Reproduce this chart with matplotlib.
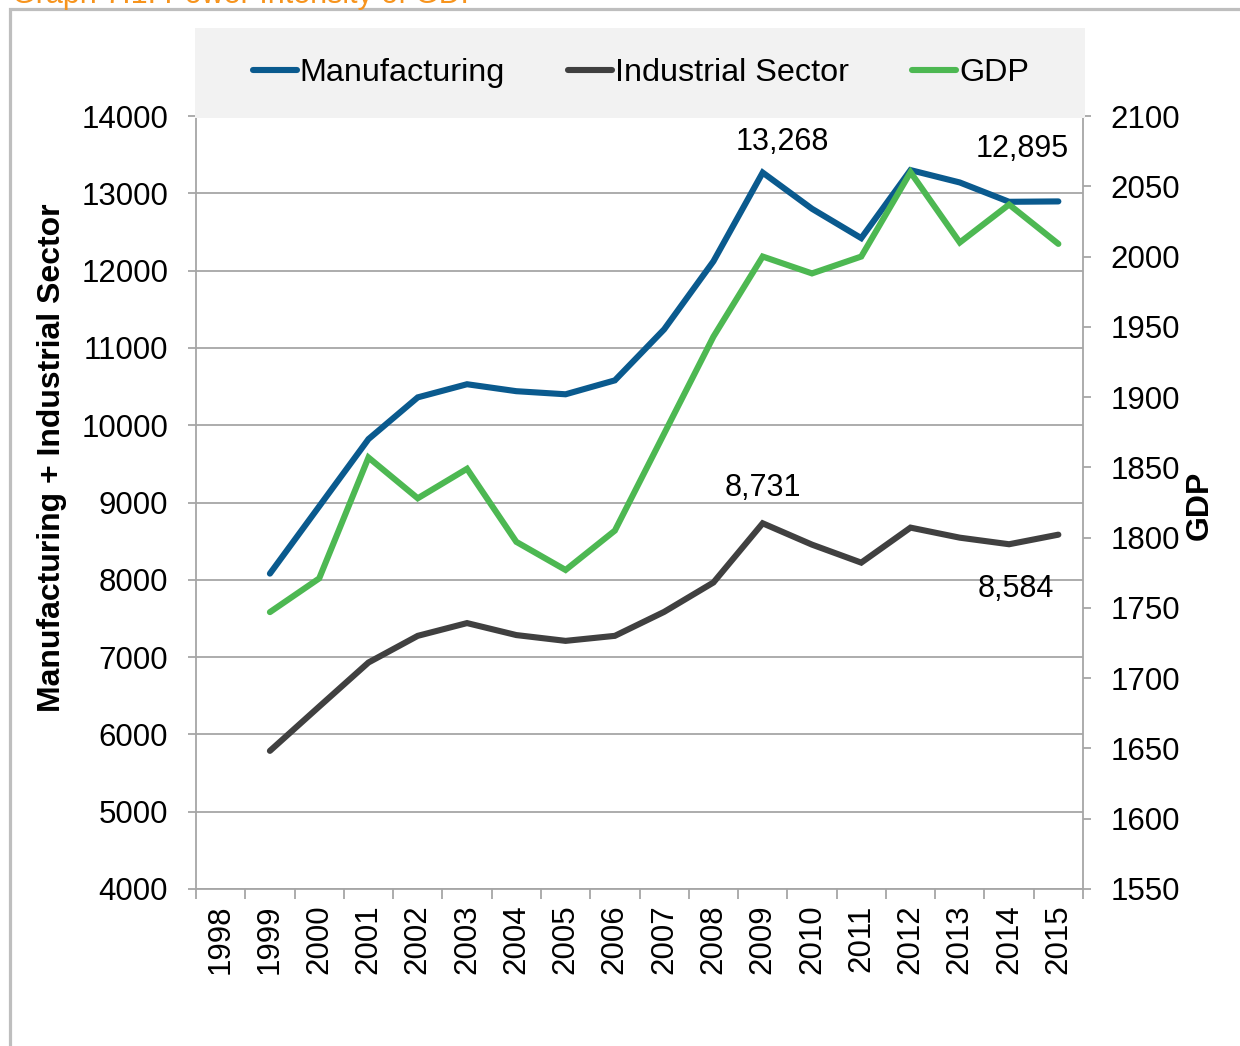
import matplotlib
matplotlib.use("Agg")
import matplotlib.pyplot as plt
from matplotlib.patches import Rectangle
from matplotlib.lines import Line2D
from matplotlib.ticker import FixedLocator, NullFormatter, FixedFormatter

years = ["1998", "1999", "2000", "2001", "2002", "2003", "2004", "2005", "2006",
         "2007", "2008", "2009", "2010", "2011", "2012", "2013", "2014", "2015"]
data_years = years[1:]
manufacturing = [8080, 8950, 9820, 10360, 10530, 10440, 10400, 10580, 11240,
                 12120, 13268, 12800, 12420, 13300, 13140, 12890, 12895]
industrial = [5787, 6360, 6930, 7275, 7440, 7285, 7210, 7275, 7585,
              7965, 8731, 8455, 8222, 8675, 8545, 8460, 8584]
gdp = [1747, 1771, 1857, 1828, 1849, 1797, 1777, 1805, 1874,
       1943, 2000, 1988, 2000, 2060, 2010, 2037, 2009]
left_ticks = [4000, 5000, 6000, 7000, 8000, 9000, 10000, 11000, 12000, 13000, 14000]
right_ticks = [1550, 1600, 1650, 1700, 1750, 1800, 1850, 1900, 1950, 2000, 2050, 2100]

W, H = 1240, 1046
fig = plt.figure(figsize=(W / 100, H / 100), dpi=100)

def fx(px):
    return px / W

def fy(py):
    return 1 - py / H

REG = ["Liberation Sans", "DejaVu Sans"]

# Outer frame
fig.patches.append(Rectangle((fx(9.5), fy(1060)), fx(1250) - fx(9.5), fy(8.5) - fy(1060),
                             transform=fig.transFigure, fill=False,
                             edgecolor="#BEBEBE", linewidth=2.3, clip_on=False))

# Partially visible title (cut by the top edge, as in the reference)
fig.text(fx(12), fy(3), "Graph 7.1: Power Intensity of GDP", color="#F7941D",
         fontsize=22, family=REG, ha="left", va="baseline")

# Legend background
fig.patches.append(Rectangle((fx(195), fy(118)), fx(1085) - fx(195), fy(28) - fy(118),
                             transform=fig.transFigure, facecolor="#F2F2F2",
                             edgecolor="none", zorder=5))

ax = fig.add_axes([fx(196), fy(889), fx(1083) - fx(196), fy(116) - fy(889)])
ax2 = ax.twinx()

x_all = list(range(len(years)))
x_data = [years.index(y) for y in data_years]

blue = "#0A5A8E"
dark = "#404040"
green = "#4DB852"
lw = 4.4

ax.plot(x_data, manufacturing, color=blue, lw=lw, solid_capstyle="round",
        solid_joinstyle="miter", zorder=3)
ax.plot(x_data, industrial, color=dark, lw=lw, solid_capstyle="round",
        solid_joinstyle="miter", zorder=3)
ax2.plot(x_data, gdp, color=green, lw=lw, solid_capstyle="round",
         solid_joinstyle="miter", zorder=3)

ax.set_xlim(-0.5, len(years) - 0.5)
ax.set_ylim(4000, 14000)
ax2.set_ylim(1550, 2100)

ax.yaxis.set_major_locator(FixedLocator(left_ticks))
ax2.yaxis.set_major_locator(FixedLocator(right_ticks))
ax.xaxis.set_major_locator(FixedLocator([i - 0.5 for i in range(len(years) + 1)]))
ax.xaxis.set_major_formatter(NullFormatter())
ax.xaxis.set_minor_locator(FixedLocator(x_all))
ax.xaxis.set_minor_formatter(FixedFormatter(years))

ax.grid(axis="y", color="#A6A6A6", linewidth=1.3)
ax.set_axisbelow(True)

for a in (ax, ax2):
    for s in a.spines.values():
        s.set_color("#A6A6A6")
        s.set_linewidth(1.3)
    a.spines["top"].set_visible(False)
ax.spines["right"].set_visible(False)
ax2.spines["left"].set_visible(False)
ax2.spines["bottom"].set_visible(False)

TS = 22.5
ax.tick_params(axis="x", which="major", length=7, color="#A6A6A6", width=1.3, direction="out")
ax.tick_params(axis="x", which="minor", length=0, pad=11, labelsize=TS, labelrotation=90)
ax.tick_params(axis="y", length=6, color="#A6A6A6", width=1.3, pad=14, labelsize=TS)
ax2.tick_params(axis="y", length=6, color="#A6A6A6", width=1.3, pad=14, labelsize=TS)
for lab in ax.get_xticklabels(minor=True) + ax.get_yticklabels() + ax2.get_yticklabels():
    lab.set_family(REG)
    lab.set_color("#000000")

# Axis titles
fig.text(fx(52), fy(458), "Manufacturing + Industrial Sector", rotation=90,
         ha="center", va="center", fontsize=23, fontweight="bold", family=REG)
fig.text(fx(1200), fy(505), "GDP", rotation=90, ha="center", va="center",
         fontsize=23, fontweight="bold", family=REG)

# Data labels
lab_kw = dict(textcoords="offset pixels", ha="center", va="center", fontsize=22,
              family=REG, zorder=6)
i09 = data_years.index("2009")
i15 = data_years.index("2015")
ax.annotate(f"{manufacturing[i09]:,}", (x_data[i09], manufacturing[i09]), xytext=(20, 31), **lab_kw)
ax.annotate(f"{manufacturing[i15]:,}", (x_data[i15], manufacturing[i15]), xytext=(-36, 52), **lab_kw)
ax.annotate(f"{industrial[i09]:,}", (x_data[i09], industrial[i09]), xytext=(0, 35), **lab_kw)
ax.annotate(f"{industrial[i15]:,}", (x_data[i15], industrial[i15]), xytext=(-43, -54), **lab_kw)

handles = [Line2D([], [], color=blue, lw=lw, solid_capstyle="round"),
           Line2D([], [], color=dark, lw=lw, solid_capstyle="round"),
           Line2D([], [], color=green, lw=lw, solid_capstyle="round")]
leg = fig.legend(handles, ["Manufacturing", "Industrial Sector", "GDP"], ncol=3,
                 loc="center", bbox_to_anchor=(fx(641), fy(73)), frameon=False,
                 handlelength=1.35, handletextpad=0.1, columnspacing=1.95,
                 prop={"family": REG, "size": 23.3})
leg.set_zorder(7)

fig.savefig("out.png", dpi=100)
